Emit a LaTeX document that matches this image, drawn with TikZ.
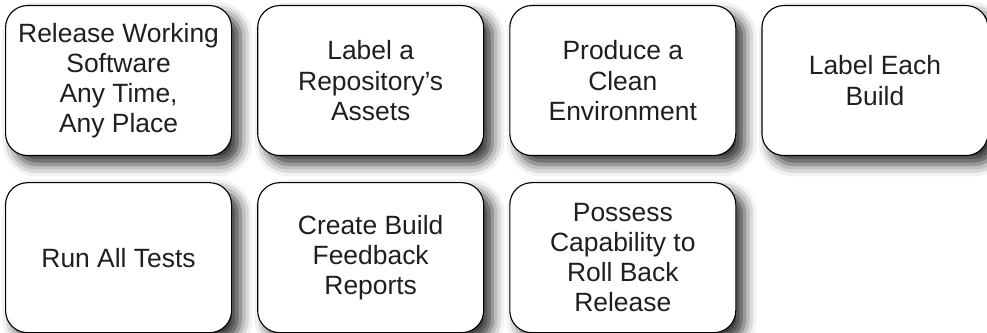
\documentclass[tikz,border=0pt]{standalone}
\usepackage{fontspec}
\setmainfont{Liberation Sans}
\usetikzlibrary{positioning, shadows.blur}

\begin{document}
\begin{tikzpicture}[
  practice/.style = {draw, rounded corners=0.55cm, line width=0.8pt, fill=white,
    minimum width=5.65cm, minimum height=3.75cm, align=center, inner sep=0pt,
    font=\fontsize{18.8}{21.5}\selectfont, text=black!88,
    blur shadow={shadow xshift=0.22cm, shadow yshift=-0.22cm,
      shadow blur radius=0.3cm, shadow opacity=80}},
  node distance=0.65cm and 0.625cm,
]
  \useasboundingbox (0,0) rectangle (24.675,8.325);

  % First row
  \node[practice, anchor=north west] (release) at (0.125,8.2)
    {Release Working\\Software\\Any Time,\\Any Place};
  \node[practice, right=of release]   (labelrepo) {Label a\\Repository's\\Assets};
  \node[practice, right=of labelrepo] (cleanenv)  {Produce a\\Clean\\Environment};
  \node[practice, right=of cleanenv]  (labelbuild) {Label Each\\Build};

  % Second row
  \node[practice, below=of release]  (runtests) {Run All Tests};
  \node[practice, right=of runtests] (feedback) {Create Build\\Feedback\\Reports};
  \node[practice, right=of feedback] (rollback) {Possess\\Capability to\\Roll Back\\Release};
\end{tikzpicture}
\end{document}
